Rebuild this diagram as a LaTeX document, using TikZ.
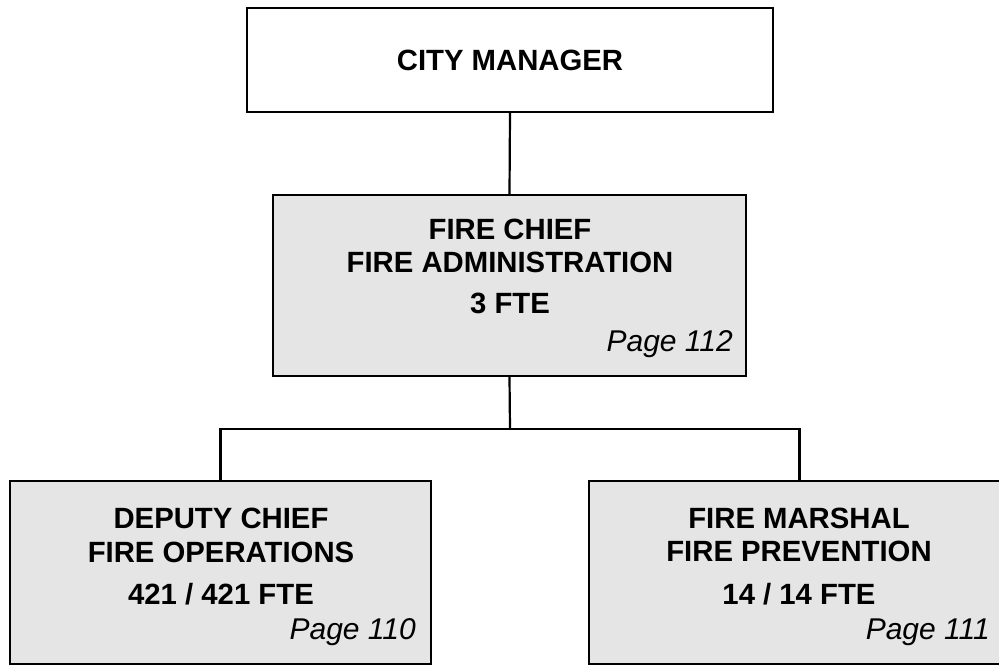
\documentclass[tikz,border=0pt]{standalone}
\usepackage{fontspec}
\setmainfont{Liberation Sans}
\begin{document}
\begin{tikzpicture}[x=1pt,y=-1pt,
  orgbox/.style={draw=black,line width=2.2pt,rectangle,inner sep=0pt},
  graybox/.style={orgbox,fill=black!10},
  title/.style={font=\fontsize{29.3}{33}\selectfont\bfseries,inner sep=0pt,anchor=center},
  pg/.style={font=\fontsize{30}{34}\selectfont\itshape,inner sep=0pt,anchor=east},
  link/.style={line width=2.2pt,draw=black}]
\useasboundingbox (0,0) rectangle (999,665);
\node[orgbox,fill=white,minimum width=526pt,minimum height=104pt] (cm) at (510,60) {};
\node[graybox,minimum width=473pt,minimum height=181pt] (fc) at (509.5,285.5) {};
\node[graybox,minimum width=421pt,minimum height=183pt] (dep) at (220.5,572.5) {};
\node[graybox,minimum width=421pt,minimum height=183pt] (mar) at (799.5,572.5) {};
\coordinate (j) at (510,429);
\draw[link] (cm.south) -- (fc.north);
\draw[link] (fc.south) -- (j);
\draw[link] (dep.north) |- (j) -| (mar.north);
\node[title] (t1) at (510,60) {CITY MANAGER};
\node[title] (t2) at (510,229) {FIRE CHIEF};
\node[title] (t3) at (510,262) {FIRE ADMINISTRATION};
\node[title] (t4) at (510,303) {3 FTE};
\node[pg] (t5) at (733,344) {Page 112};
\node[title] (t6) at (221,518) {DEPUTY CHIEF};
\node[title] (t7) at (221,552) {FIRE OPERATIONS};
\node[title] (t8) at (221,594) {421 / 421 FTE};
\node[pg] (t9) at (416,632) {Page 110};
\node[title] (t10) at (799,518) {FIRE MARSHAL};
\node[title] (t11) at (799,551) {FIRE PREVENTION};
\node[title] (t12) at (799,594) {14 / 14 FTE};
\node[pg] (t13) at (990,632) {Page 111};
\end{tikzpicture}
\end{document}
